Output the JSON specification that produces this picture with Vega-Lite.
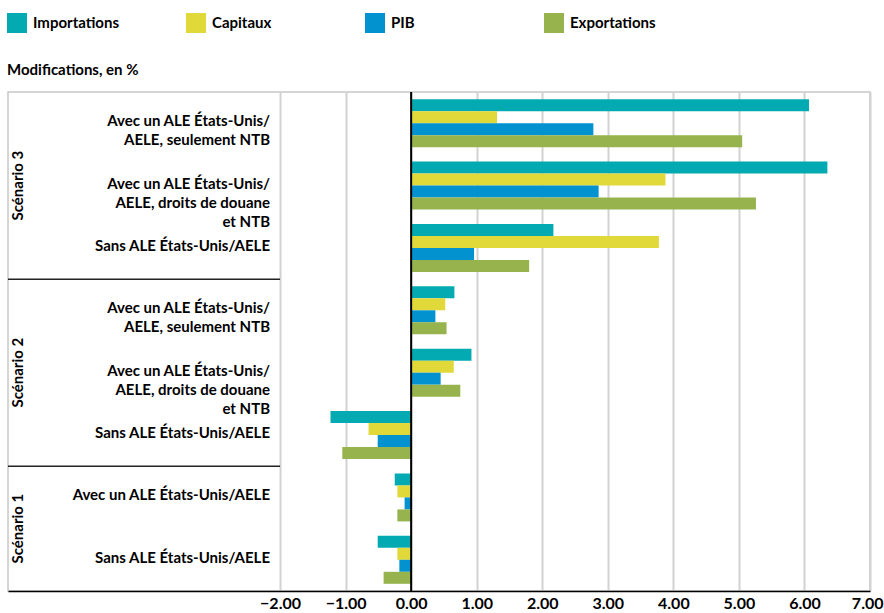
{
  "$schema": "https://vega.github.io/schema/vega-lite/v6.json",
  "width": 862,
  "height": 499,
  "autosize": "none",
  "padding": {"left": 8, "top": 92, "right": 14, "bottom": 22},
  "config": {
    "font": "Lato",
    "view": {"stroke": "#c8c8c8", "strokeWidth": 1.5}
  },
  "datasets": {
    "bars": [
      {"cat": "3-1", "series": "Importations", "value": 6.07},
      {"cat": "3-1", "series": "Capitaux", "value": 1.31},
      {"cat": "3-1", "series": "PIB", "value": 2.78},
      {"cat": "3-1", "series": "Exportations", "value": 5.05},
      {"cat": "3-2", "series": "Importations", "value": 6.35},
      {"cat": "3-2", "series": "Capitaux", "value": 3.88},
      {"cat": "3-2", "series": "PIB", "value": 2.86},
      {"cat": "3-2", "series": "Exportations", "value": 5.26},
      {"cat": "3-3", "series": "Importations", "value": 2.17},
      {"cat": "3-3", "series": "Capitaux", "value": 3.78},
      {"cat": "3-3", "series": "PIB", "value": 0.96},
      {"cat": "3-3", "series": "Exportations", "value": 1.8},
      {"cat": "2-1", "series": "Importations", "value": 0.66},
      {"cat": "2-1", "series": "Capitaux", "value": 0.52},
      {"cat": "2-1", "series": "PIB", "value": 0.37},
      {"cat": "2-1", "series": "Exportations", "value": 0.54},
      {"cat": "2-2", "series": "Importations", "value": 0.92},
      {"cat": "2-2", "series": "Capitaux", "value": 0.65},
      {"cat": "2-2", "series": "PIB", "value": 0.45},
      {"cat": "2-2", "series": "Exportations", "value": 0.75},
      {"cat": "2-3", "series": "Importations", "value": -1.23},
      {"cat": "2-3", "series": "Capitaux", "value": -0.65},
      {"cat": "2-3", "series": "PIB", "value": -0.51},
      {"cat": "2-3", "series": "Exportations", "value": -1.05},
      {"cat": "1-1", "series": "Importations", "value": -0.25},
      {"cat": "1-1", "series": "Capitaux", "value": -0.21},
      {"cat": "1-1", "series": "PIB", "value": -0.1},
      {"cat": "1-1", "series": "Exportations", "value": -0.21},
      {"cat": "1-2", "series": "Importations", "value": -0.51},
      {"cat": "1-2", "series": "Capitaux", "value": -0.21},
      {"cat": "1-2", "series": "PIB", "value": -0.18},
      {"cat": "1-2", "series": "Exportations", "value": -0.42}
    ],
    "labels": [
      {"cat": "3-1", "label": "Avec un ALE États-Unis/|AELE, seulement NTB"},
      {"cat": "3-2", "label": "Avec un ALE États-Unis/|AELE, droits de douane|et NTB"},
      {"cat": "3-3", "label": "Sans ALE États-Unis/AELE"},
      {"cat": "2-1", "label": "Avec un ALE États-Unis/|AELE, seulement NTB"},
      {"cat": "2-2", "label": "Avec un ALE États-Unis/|AELE, droits de douane|et NTB"},
      {"cat": "2-3", "label": "Sans ALE États-Unis/AELE"},
      {"cat": "1-1", "label": "Avec un ALE États-Unis/AELE"},
      {"cat": "1-2", "label": "Sans ALE États-Unis/AELE"}
    ],
    "scenMid": [
      {"cat": "3-2", "scenario": "Scénario 3"},
      {"cat": "2-2", "scenario": "Scénario 2"}
    ],
    "scenEdge": [
      {"cat": "1-1", "scenario": "Scénario 1"}
    ],
    "seps": [
      {"cat": "3-3"},
      {"cat": "2-3"}
    ],
    "zero": [{"v": 0}]
  },
  "layer": [
    {
      "data": {"name": "bars"},
      "mark": {"type": "bar"},
      "encoding": {
        "x": {
          "field": "value",
          "type": "quantitative",
          "scale": {"domain": [-6.15, 7], "nice": false, "zero": false},
          "axis": {
            "values": [-2, -1, 0, 1, 2, 3, 4, 5, 6, 7],
            "format": ".2f",
            "title": null,
            "ticks": false,
            "grid": true,
            "gridColor": "#d2d2d2",
            "gridWidth": 2,
            "domainColor": "black",
            "domainWidth": 1.5,
            "labelFont": "Lato",
            "labelFontSize": 16,
            "labelFontWeight": "bold",
            "labelColor": "black",
            "labelPadding": 4,
            "labelFlush": 5,
            "labelFlushOffset": 13
          }
        },
        "y": {
          "field": "cat",
          "type": "nominal",
          "scale": {"domain": ["3-1", "3-2", "3-3", "2-1", "2-2", "2-3", "1-1", "1-2"], "paddingInner": 0, "paddingOuter": 0},
          "axis": null
        },
        "yOffset": {
          "field": "series",
          "type": "nominal",
          "scale": {"domain": ["Importations", "Capitaux", "PIB", "Exportations"], "paddingInner": 0, "paddingOuter": 0.6}
        },
        "color": {
          "field": "series",
          "type": "nominal",
          "scale": {
            "domain": ["Importations", "Capitaux", "PIB", "Exportations"],
            "range": ["#03aab1", "#e1d839", "#0392d0", "#96b34d"]
          },
          "legend": {
            "orient": "none",
            "legendX": -1,
            "legendY": -79,
            "direction": "horizontal",
            "columns": 4,
            "title": "Modifications, en %",
            "titleOrient": "bottom",
            "titleAnchor": "start",
            "titleAlign": "left",
            "titleBaseline": "top",
            "titlePadding": 30,
            "titleFont": "Lato",
            "titleFontSize": 15,
            "titleFontWeight": "bold",
            "titleColor": "black",
            "titleLimit": 400,
            "symbolType": "square",
            "symbolSize": 400,
            "symbolStrokeWidth": 0,
            "labelFont": "Lato",
            "labelFontSize": 15,
            "labelFontWeight": "bold",
            "labelColor": "black",
            "labelOffset": 6,
            "gridAlign": "all",
            "columnPadding": 66,
            "padding": 0
          }
        }
      }
    },
    {
      "data": {"name": "zero"},
      "mark": {"type": "rule", "color": "black", "strokeWidth": 2},
      "encoding": {"x": {"field": "v", "type": "quantitative"}}
    },
    {
      "data": {"name": "seps"},
      "mark": {"type": "rule", "color": "#222222", "strokeWidth": 1.5},
      "encoding": {
        "y": {"field": "cat", "type": "nominal", "bandPosition": 1},
        "x": {"datum": -6.15},
        "x2": {"datum": -2}
      }
    },
    {
      "data": {"name": "labels"},
      "mark": {"type": "text", "align": "right", "baseline": "middle", "lineBreak": "|", "lineHeight": 19, "font": "Lato", "fontSize": 15, "fontWeight": "bold", "color": "black", "dx": -10, "dy": -2},
      "encoding": {
        "y": {"field": "cat", "type": "nominal"},
        "x": {"datum": -2},
        "text": {"field": "label"}
      }
    },
    {
      "data": {"name": "scenMid"},
      "mark": {"type": "text", "align": "center", "baseline": "middle", "angle": 270, "font": "Lato", "fontSize": 15, "fontWeight": "bold", "color": "black"},
      "encoding": {
        "y": {"field": "cat", "type": "nominal"},
        "x": {"datum": -6.0},
        "text": {"field": "scenario"}
      }
    },
    {
      "data": {"name": "scenEdge"},
      "mark": {"type": "text", "align": "center", "baseline": "middle", "angle": 270, "font": "Lato", "fontSize": 15, "fontWeight": "bold", "color": "black"},
      "encoding": {
        "y": {"field": "cat", "type": "nominal", "bandPosition": 1},
        "x": {"datum": -6.0},
        "text": {"field": "scenario"}
      }
    }
  ]
}
